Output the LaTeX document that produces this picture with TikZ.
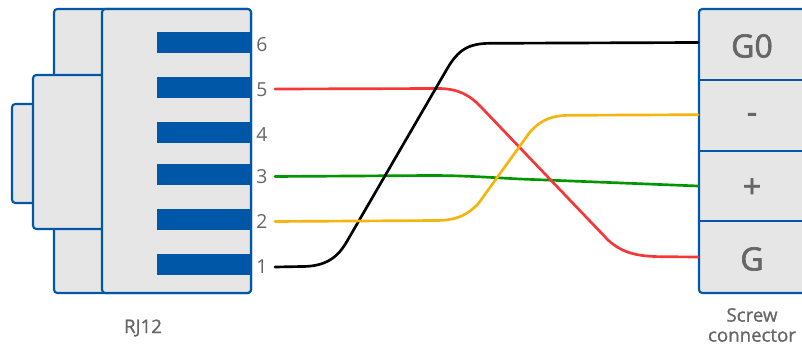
\documentclass[tikz,border=0pt]{standalone}
\usepackage{fontspec}
\setmainfont{Open Sans}
\definecolor{rjblue}{RGB}{0,87,168}
\definecolor{rjfill}{RGB}{230,230,230}
\definecolor{rjtext}{RGB}{102,102,102}
\definecolor{wblack}{RGB}{0,0,0}
\definecolor{wred}{RGB}{245,55,55}
\definecolor{wgreen}{RGB}{0,150,0}
\definecolor{wyellow}{RGB}{245,180,15}
\tikzset{
  part/.style={draw=rjblue,fill=rjfill,line width=1.6pt,rounded corners=2.5pt},
  cell/.style={text=rjtext,font=\fontsize{24}{28}\selectfont\addfontfeature{FakeBold=2},inner sep=0pt},
  divider/.style={draw=rjblue,line width=1.6pt},
  pin/.style={text=rjtext,font=\fontsize{14.5}{16}\selectfont,inner sep=0pt,minimum width=19.5pt,minimum height=12pt},
  captext/.style={text=rjtext,font=\fontsize{14}{15}\selectfont\addfontfeature{FakeBold=1},inner sep=0pt,align=center},
  wire/.style={line width=2pt,line cap=round,line join=round},
}
\begin{document}
\begin{tikzpicture}[x=0.75pt,y=-0.75pt]
\useasboundingbox (0,0) rectangle (802,345);
\clip (0,0) rectangle (802,345);
% RJ12 body
\draw[part] (54,9) rectangle (251,293);
\draw[part] (12,104) rectangle (40,203);
\draw[part] (33,75) rectangle (120,229);
\draw[part] (102,9) rectangle (251,293);
\foreach \n/\t/\b in {6/32/53,5/77/98,4/122/143,3/164/185,2/209/230,1/254/275}{
  \fill[rjblue] (157,\t) rectangle (250,\b);
  \node[pin] (p\n) at (262,{(\t+\b)/2+2}) {\n};
}
\node[captext] (rj) at (143,328) {RJ12};
% Screw connector
\draw[part] (699,9) rectangle (830,293);
\draw[divider] (699,80) -- (830,80);
\draw[divider] (699,151) -- (830,151);
\draw[divider] (699,221) -- (830,221);
\node[cell] (tg0) at (752,46) {G0};
\node[cell] (tm) at (752,118) {-};
\node[cell] (tp) at (752,188) {+};
\node[cell] (tg) at (752,259) {G};
\node[captext] (sc) at (752,325) {Screw\\connector};
% wire ends
\coordinate (w1) at (275,267);
\coordinate (w2) at (275,221.5);
\coordinate (w3) at (275,176.5);
\coordinate (w5) at (275,89);
\coordinate (e0) at (698,42.5);
\coordinate (em) at (698,114.7);
\coordinate (ep) at (698,186);
\coordinate (eg) at (698,257);
% wires
\draw[wire,wgreen] (w3) -- (430,175.5) .. controls (465,175.5) and (490,177.5) .. (520,179) -- (ep);
\draw[wire,wred] (w5) -- (438,88.5) .. controls (458,88.5) and (470,95) .. (482,108) -- (608,240) .. controls (623,254) and (640,256.5) .. (662,256.7) -- (eg);
\draw[wire,wblack] (w1) -- (302,266.5) .. controls (325,266.5) and (337,258) .. (346,243) -- (447,69) .. controls (458,50) and (468,43.5) .. (490,43.3) -- (e0);
\draw[wire,wyellow] (w2) -- (436,220.5) .. controls (458,220.5) and (468,214) .. (478,204) -- (530,132) .. controls (542,119) and (552,115.5) .. (570,115.3) -- (em);
\end{tikzpicture}
\end{document}
